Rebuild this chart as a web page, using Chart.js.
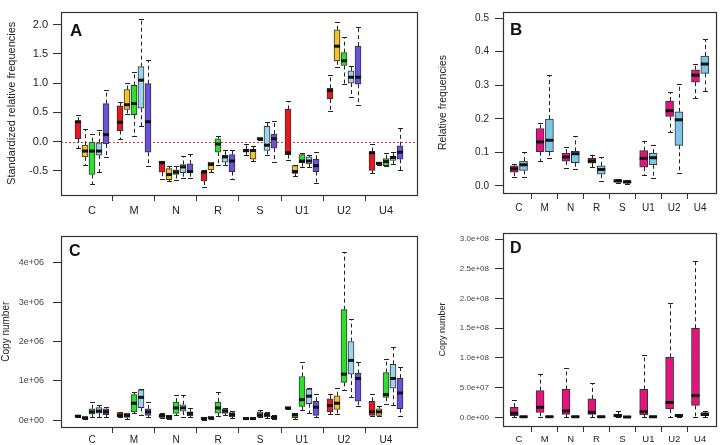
<!DOCTYPE html>
<html><head><meta charset="utf-8">
<script src="https://cdn.jsdelivr.net/npm/chart.js@4.4.1/dist/chart.umd.min.js"></script>
<style>
html,body{margin:0;padding:0;background:#fff;}
#wrap{position:relative;width:720px;height:445px;overflow:hidden;background:#fff;}
canvas{position:absolute;}
</style></head><body>
<div id="wrap">
<canvas id="cA" width="430" height="222" style="left:0px;top:0px"></canvas>
<canvas id="cB" width="290" height="222" style="left:430px;top:0px"></canvas>
<canvas id="cC" width="430" height="223" style="left:0px;top:222px"></canvas>
<canvas id="cD" width="290" height="223" style="left:430px;top:222px"></canvas>
</div>
<script>
// ---------- categories & tick labels ----------
const CATS = ['C','M','N','R','S','U1','U2','U4'];
const ticksA = [-0.5, 0, 0.5, 1, 1.5, 2];
const ticksB = [0, 0.1, 0.2, 0.3, 0.4, 0.5];
const ticksC = [0, 1e6, 2e6, 3e6, 4e6];
const ticksD = [0, 5e7, 1e8, 1.5e8, 2e8, 2.5e8, 3e8];

// ---------- box stats: [lower whisker, Q1, median, Q3, upper whisker] per category ----------
// Panel A: standardized relative frequencies
const aRed = [[-0.10,0.05,0.34,0.35,0.45],[0.04,0.19,0.33,0.61,0.68],[-0.64,-0.52,-0.36,-0.33,-0.33],[-0.78,-0.67,-0.52,-0.51,-0.49],[-0.22,-0.18,-0.15,-0.13,-0.04],[-0.32,-0.22,-0.19,0.55,0.69],[0.52,0.73,0.87,0.91,1.14],[-0.54,-0.49,-0.19,-0.17,-0.04]];
const aYellow = [[-0.40,-0.26,-0.16,-0.06,0.21],[0.47,0.55,0.63,0.89,1.00],[-0.67,-0.65,-0.56,-0.46,-0.41],[-0.52,-0.48,-0.39,-0.35,-0.34],[-0.33,-0.30,-0.15,-0.13,-0.08],[-0.58,-0.54,-0.51,-0.41,-0.39],[1.27,1.38,1.63,1.91,2.05],[-0.40,-0.39,-0.37,-0.36,-0.34]];
const aGreen = [[-0.72,-0.56,-0.16,0.00,0.13],[0.09,0.46,0.65,0.96,1.19],[-0.65,-0.56,-0.52,-0.48,-0.41],[-0.40,-0.18,-0.04,0.05,0.09],[0.03,0.035,0.05,0.06,0.07],[-0.43,-0.36,-0.33,-0.22,-0.19],[0.98,1.30,1.38,1.52,1.79],[-0.42,-0.41,-0.34,-0.29,-0.19]];
const aBlue = [[-0.52,-0.23,-0.16,-0.02,0.20],[0.26,0.57,1.05,1.28,2.09],[-0.62,-0.53,-0.43,-0.39,-0.24],[-0.40,-0.35,-0.26,-0.23,-0.14],[-0.23,-0.15,-0.06,0.26,0.33],[-0.43,-0.38,-0.33,-0.26,-0.22],[0.76,1.00,1.10,1.21,1.30],[-0.38,-0.32,-0.27,-0.25,-0.17]];
const aPurple = [[-0.26,-0.04,0.12,0.65,0.89],[-0.42,-0.18,0.34,0.99,1.40],[-0.62,-0.53,-0.51,-0.38,-0.21],[-0.64,-0.51,-0.33,-0.22,-0.15],[-0.35,-0.11,0.05,0.13,0.36],[-0.70,-0.51,-0.41,-0.30,-0.17],[0.63,0.98,1.10,1.63,1.95],[-0.49,-0.30,-0.18,-0.07,0.24]];
// Panel B: relative frequencies
const bMagenta = [[0.028,0.041,0.051,0.060,0.065],[0.074,0.102,0.131,0.171,0.188],[0.054,0.074,0.086,0.098,0.115],[0.056,0.068,0.074,0.082,0.091],[0.009,0.011,0.015,0.019,0.021],[0.032,0.056,0.082,0.105,0.133],[0.162,0.207,0.224,0.253,0.279],[0.263,0.309,0.330,0.346,0.362]];
const bBlue = [[0.028,0.046,0.063,0.074,0.102],[0.082,0.102,0.136,0.199,0.329],[0.049,0.069,0.096,0.103,0.149],[0.016,0.035,0.049,0.060,0.085],[0.005,0.008,0.012,0.016,0.018],[0.023,0.063,0.084,0.098,0.121],[0.039,0.121,0.197,0.221,0.305],[0.284,0.335,0.363,0.387,0.438]];
// Panel C: copy number
const cRed = [[8e4,9e4,1.0e5,1.2e5,1.3e5],[7e4,8e4,1.2e5,1.9e5,2.1e5],[5e4,7e4,1.1e5,1.5e5,1.7e5],[1e4,3e4,4e4,7e4,8e4],[2e4,3e4,4e4,6e4,7e4],[2.8e5,2.9e5,3.1e5,3.3e5,3.4e5],[1.5e5,2.1e5,3.7e5,5.4e5,6.7e5],[1.0e5,1.2e5,2.1e5,4.8e5,6.7e5]];
const cYellow = [[3e4,4e4,6e4,8e4,9e4],[3e4,7e4,1.2e5,1.8e5,1.9e5],[3e4,4e4,8e4,1.2e5,1.4e5],[2e4,3e4,6e4,8e4,9e4],[2e4,3e4,4e4,5e4,6e4],[4e4,6e4,1.3e5,1.7e5,1.8e5],[1.5e5,2.7e5,4.3e5,6.2e5,8.3e5],[1.1e5,1.2e5,2.1e5,2.9e5,3.6e5]];
const cGreen = [[8e4,1.5e5,2.1e5,2.9e5,4.6e5],[1.8e5,2.1e5,4.3e5,6.5e5,7.1e5],[1.2e5,1.7e5,3.1e5,4.6e5,6.5e5],[1.0e5,1.8e5,3.1e5,4.6e5,7.1e5],[7e4,8e4,1.3e5,2.1e5,2.7e5],[2.7e5,3.5e5,5.2e5,1.11e6,1.48e6],[7.7e5,9.6e5,1.17e6,2.81e6,4.27e6],[4.2e5,5.8e5,6.5e5,1.21e6,1.56e6]];
const cBlue = [[8e4,1.8e5,2.3e5,3.2e5,3.9e5],[1.4e5,3.2e5,5.8e5,7.7e5,7.9e5],[8e4,2.3e5,3.1e5,3.9e5,6.5e5],[1.2e5,1.7e5,2.3e5,2.9e5,3.2e5],[6e4,8e4,1.3e5,1.7e5,2.1e5],[1.9e5,4.2e5,6.1e5,7.9e5,8.3e5],[5.8e5,1.17e6,1.52e6,2.0e6,2.58e6],[3.9e5,8.1e5,1.06e6,1.42e6,1.87e6]];
const cPurple = [[8e4,1.4e5,2.1e5,2.9e5,3.3e5],[8e4,1.2e5,2.1e5,2.9e5,4.6e5],[8e4,1.1e5,1.7e5,2.1e5,3.2e5],[6e4,8e4,1.4e5,1.9e5,2.3e5],[3e4,4e4,7e4,1.0e5,1.2e5],[8e4,1.2e5,3.3e5,4.8e5,6.7e5],[3.6e5,4.8e5,1.06e6,1.19e6,1.48e6],[1.0e5,2.9e5,6.9e5,1.07e6,1.36e6]];
// Panel D: copy number
const dMagenta = [[0,2.8e6,6.7e6,1.7e7,2.9e7],[1e6,8.4e6,1.7e7,4.5e7,7.3e7],[0,5e6,1.07e7,4.7e7,8.3e7],[0,5e6,8.4e6,3.1e7,5.8e7],[0,1e6,2.8e6,5.6e6,1.1e7],[0,4e6,9.6e6,4.7e7,1.05e8],[1e6,1.4e7,2.5e7,1.01e8,1.92e8],[1e6,2.0e7,3.65e7,1.5e8,2.63e8]];
const dBlue = [[0,3e5,1e6,2e6,3e6],[0,3e5,1e6,2e6,3e6],[0,3e5,1e6,2e6,3e6],[0,3e5,1e6,2e6,3e6],[0,2e5,6e5,1.5e6,2e6],[0,3e5,1e6,2e6,3e6],[5e5,1.5e6,3e6,4.5e6,6e6],[1e6,3e6,5e6,8e6,1e7]];

// ---------- styling ----------
Chart.defaults.font.family = "'Liberation Sans', Arial, Helvetica, sans-serif";
Chart.defaults.color = '#222';
const RED = '#E8191E', YEL = '#F4C22B', GRN = '#2EE02E', LBL = '#9CD4EE', PUR = '#6B52DE';
const MAG = '#E3147D', SKY = '#7EC6E8';

const boxPlugin = {
  id: 'boxes',
  beforeDatasetsDraw(chart, args, o) {
    const {ctx, chartArea: a, scales: {y}} = chart;
    ctx.save();
    if (o.zeroLine) {
      const py = Math.round(y.getPixelForValue(0)) + 0.5;
      ctx.strokeStyle = '#D8322A'; ctx.lineWidth = 1; ctx.setLineDash([2, 2]);
      ctx.beginPath(); ctx.moveTo(a.left, py); ctx.lineTo(a.right, py); ctx.stroke();
    }
    const meta = chart.getDatasetMeta(0);
    const pts = chart.data.datasets[0].data;
    ctx.strokeStyle = '#222'; ctx.lineWidth = 1;
    meta.data.forEach((el, i) => {
      const s = pts[i].stats;
      const px = Math.round(el.x) + 0.5;
      const yLo = Math.round(y.getPixelForValue(s[0])) + 0.5;
      const yQ1 = y.getPixelForValue(s[1]);
      const yQ3 = y.getPixelForValue(s[3]);
      const yHi = Math.round(y.getPixelForValue(s[4])) + 0.5;
      ctx.setLineDash([4, 3]);
      ctx.beginPath();
      ctx.moveTo(px, yQ3); ctx.lineTo(px, yHi);
      ctx.moveTo(px, yQ1); ctx.lineTo(px, yLo);
      ctx.stroke();
      ctx.setLineDash([]);
      ctx.beginPath();
      ctx.moveTo(px - o.cap / 2, yHi); ctx.lineTo(px + o.cap / 2, yHi);
      ctx.moveTo(px - o.cap / 2, yLo); ctx.lineTo(px + o.cap / 2, yLo);
      ctx.stroke();
    });
    ctx.restore();
  },
  afterDatasetsDraw(chart, args, o) {
    const {ctx, chartArea: a, scales: {y}} = chart;
    const meta = chart.getDatasetMeta(0);
    const pts = chart.data.datasets[0].data;
    ctx.save();
    ctx.strokeStyle = '#111'; ctx.lineWidth = 3;
    meta.data.forEach((el, i) => {
      const py = y.getPixelForValue(pts[i].stats[2]);
      ctx.beginPath();
      ctx.moveTo(el.x - el.width / 2, py); ctx.lineTo(el.x + el.width / 2, py);
      ctx.stroke();
    });
    ctx.lineWidth = 1.2; ctx.strokeStyle = '#333';
    ctx.strokeRect(Math.round(a.left) + 0.5, Math.round(a.top) + 0.5, Math.round(a.right - a.left), Math.round(a.bottom - a.top));
    ctx.fillStyle = '#111';
    ctx.font = 'bold ' + o.letterSize + "px 'Liberation Sans', Arial, sans-serif";
    ctx.textBaseline = 'alphabetic';
    ctx.fillText(o.letter, a.left + o.letterDx, a.top + o.letterDy);
    ctx.restore();
  }
};

function makePanel(id, cfg) {
  const points = [], colors = [];
  const n = cfg.series.length;
  CATS.forEach((cat, i) => {
    cfg.series.forEach((s, k) => {
      const st = s.values[i];
      points.push({x: i + (k - (n - 1) / 2) * cfg.step, y: [st[1], st[3]], stats: st});
      colors.push(s.color);
    });
  });
  const xTicks = [];
  CATS.forEach((c, i) => { xTicks.push(i); if (i < CATS.length - 1) xTicks.push(i + 0.5); });
  return new Chart(document.getElementById(id), {
    type: 'bar',
    data: {datasets: [{data: points, backgroundColor: colors, borderColor: '#333', borderWidth: 1,
      borderSkipped: false, barThickness: cfg.barW}]},
    options: {
      responsive: false, animation: false, events: [],
      layout: {padding: cfg.pad},
      plugins: {legend: {display: false}, tooltip: {enabled: false},
        boxes: {zeroLine: !!cfg.zeroLine, cap: cfg.cap, letter: cfg.letter, letterSize: cfg.letterSize,
          letterDx: cfg.letterDx, letterDy: cfg.letterDy}},
      scales: {
        x: {type: 'linear', offset: false, min: cfg.xMin, max: cfg.xMax,
          afterBuildTicks: sc => { sc.ticks = xTicks.map(v => ({value: v})); },
          afterFit: sc => { sc.height = cfg.xH; },
          ticks: {autoSkip: false, maxRotation: 0, minRotation: 0, padding: cfg.xPad,
            font: {size: cfg.xFont}, color: '#222',
            callback: v => Number.isInteger(v) ? CATS[v] : ''},
          grid: {offset: false, drawOnChartArea: false, tickLength: 6, tickWidth: 1,
            tickColor: c => (c.tick && !Number.isInteger(c.tick.value)) ? '#333' : 'rgba(0,0,0,0)'},
          border: {display: false}},
        y: {type: 'linear', min: cfg.yMin, max: cfg.yMax,
          afterBuildTicks: sc => { sc.ticks = cfg.yTicks.map(v => ({value: v})); },
          afterFit: sc => { sc.width = cfg.yW; },
          ticks: {padding: cfg.yPad, font: {size: cfg.yFont}, color: cfg.yColor, callback: cfg.yFmt},
          grid: {drawOnChartArea: false, tickLength: 8, tickWidth: 1, tickColor: '#333'},
          border: {display: false},
          title: {display: true, text: cfg.title, font: {size: cfg.titleSize}, color: '#222',
            padding: {top: cfg.titlePad, bottom: 0}}}
      }
    },
    plugins: [boxPlugin]
  });
}

const fmt1 = v => v.toFixed(1);
const fmtE0 = v => v.toExponential(0).replace(/e([+-])(\d)$/, 'e$10$2');
const fmtE1 = v => v.toExponential(1).replace(/e([+-])(\d)$/, 'e$10$2');

makePanel('cA', {
  series: [{values: aRed, color: RED}, {values: aYellow, color: YEL}, {values: aGreen, color: GRN},
           {values: aBlue, color: LBL}, {values: aPurple, color: PUR}],
  step: 0.1667, barW: 6, cap: 5, zeroLine: true,
  xMin: -0.738, xMax: 7.738, yMin: -0.91, yMax: 2.22, yTicks: ticksA, yFmt: fmt1,
  pad: {top: 3, right: 13, left: 0, bottom: 0}, xH: 27, yW: 61, xPad: 3, xFont: 11,
  yPad: 5, yFont: 11, yColor: '#222',
  title: 'Standardized relative frequencies', titleSize: 11, titlePad: 5,
  letter: 'A', letterSize: 17, letterDx: 9, letterDy: 24
});
makePanel('cB', {
  series: [{values: bMagenta, color: MAG}, {values: bBlue, color: SKY}],
  step: 0.36, barW: 8, cap: 5,
  xMin: -0.612, xMax: 7.612, yMin: -0.021, yMax: 0.518, yTicks: ticksB, yFmt: fmt1,
  pad: {top: 2, right: 4, left: 0, bottom: 0}, xH: 29, yW: 73, xPad: 3, xFont: 10,
  yPad: 6, yFont: 10, yColor: '#222',
  title: 'Relative frequencies', titleSize: 10.5, titlePad: 7,
  letter: 'B', letterSize: 17, letterDx: 7, letterDy: 23
});
makePanel('cC', {
  series: [{values: cRed, color: RED}, {values: cYellow, color: YEL}, {values: cGreen, color: GRN},
           {values: cBlue, color: LBL}, {values: cPurple, color: PUR}],
  step: 0.1667, barW: 6, cap: 5,
  xMin: -0.738, xMax: 7.738, yMin: -0.175e6, yMax: 4.675e6, yTicks: ticksC, yFmt: fmtE0,
  pad: {top: 11, right: 13, left: 0, bottom: 0}, xH: 18, yW: 61, xPad: 1, xFont: 10,
  yPad: 9, yFont: 9, yColor: '#444',
  title: 'Copy number', titleSize: 10, titlePad: 0,
  letter: 'C', letterSize: 16, letterDx: 8, letterDy: 20
});
makePanel('cD', {
  series: [{values: dMagenta, color: MAG}, {values: dBlue, color: SKY}],
  step: 0.36, barW: 8, cap: 5,
  xMin: -0.612, xMax: 7.612, yMin: -0.146e8, yMax: 3.103e8, yTicks: ticksD, yFmt: fmtE1,
  pad: {top: 11, right: 4, left: 0, bottom: 0}, xH: 19, yW: 73, xPad: 2, xFont: 9.5,
  yPad: 6, yFont: 8, yColor: '#444',
  title: 'Copy number', titleSize: 9, titlePad: 7,
  letter: 'D', letterSize: 16, letterDx: 7, letterDy: 20
});
</script>
</body></html>
